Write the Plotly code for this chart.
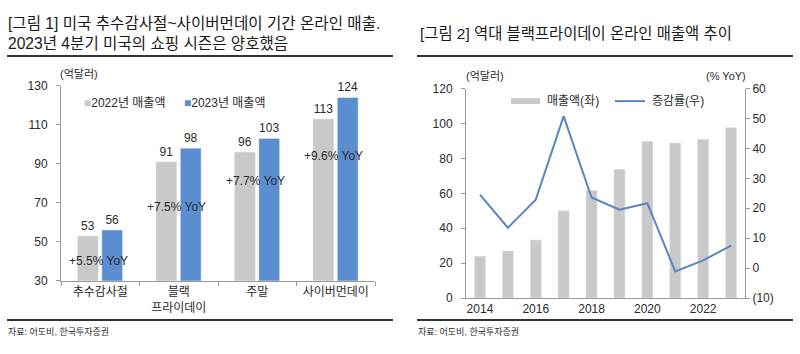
import plotly.graph_objects as go

W, H = 800, 354
def px(x): return x / W
def py(y): return 1 - y / H

# ---- data: left chart
cats = ["추수감사절", "블랙<br>프라이데이", "주말", "사이버먼데이"]
sales_2022 = [53, 91, 96, 113]
sales_2023 = [56, 98, 103, 124]
yoy_labels = ["+5.5% YoY", "+7.5% YoY", "+7.7% YoY", "+9.6% YoY"]
yoy_label_y = [40.3, 67.9, 80.9, 94.0]

# ---- data: right chart
years = [2014, 2015, 2016, 2017, 2018, 2019, 2020, 2021, 2022, 2023]
bf_sales = [24, 27, 33.3, 50, 61.7, 73.8, 89.8, 88.9, 91, 97.7]
bf_growth = [24.6, 13.5, 22.9, 50.8, 23.6, 19.5, 21.7, -1.1, 2.6, 7.5]
x2_ticks = [2014, 2016, 2018, 2020, 2022]
y1_ticks = [30, 50, 70, 90, 110, 130]
y3_ticks = [-10, 0, 10, 20, 30, 40, 50, 60]
y3_text = ["(10)", "0", "10", "20", "30", "40", "50", "60"]

GRAY = "#c9c9c9"
BLUE = "#5b8dd1"
LINE_BLUE = "#5a86c5"
AX = "#9a9a9a"
TXT = "#2b2b2b"
FONT = "Liberation Sans, Noto Sans CJK KR, sans-serif"

fig = go.Figure()

fig.add_trace(go.Bar(x=cats, y=sales_2022, width=0.265, offset=-0.29, marker_color=GRAY,
                     text=[str(v) for v in sales_2022], textposition="outside",
                     textfont=dict(size=12, color=TXT), cliponaxis=False,
                     xaxis="x", yaxis="y", showlegend=False))
fig.add_trace(go.Bar(x=cats, y=sales_2023, width=0.265, offset=0.02, marker_color=BLUE,
                     text=[str(v) for v in sales_2023], textposition="outside",
                     textfont=dict(size=12, color=TXT), cliponaxis=False,
                     xaxis="x", yaxis="y", showlegend=False))

fig.add_trace(go.Bar(x=years, y=bf_sales, width=0.4, marker_color=GRAY,
                     xaxis="x2", yaxis="y2", showlegend=False))
fig.add_trace(go.Scatter(x=years, y=bf_growth, mode="lines", line=dict(color=LINE_BLUE, width=2),
                         xaxis="x2", yaxis="y3", showlegend=False))

axcommon = dict(showline=True, linecolor=AX, linewidth=1, showgrid=False, zeroline=False,
                tickcolor=AX, ticklen=4, tickfont=dict(size=12, color=TXT, family=FONT))

annotations = []
for c, t, yy in zip(cats, yoy_labels, yoy_label_y):
    annotations.append(dict(x=c, y=yy, xref="x", yref="y", text=t, showarrow=False, xshift=-2,
                            font=dict(size=12, color=TXT, family=FONT)))

def txt(x, y, t, size=12, anchor="left", color=TXT):
    annotations.append(dict(x=px(x), y=py(y), xref="paper", yref="paper", text=t, showarrow=False,
                            xanchor=anchor, yanchor="middle", font=dict(size=size, color=color, family=FONT)))

# titles
txt(6, 17, "[그림 1] 미국 추수감사절~사이버먼데이 기간 온라인 매출.", 15.6, color="#1a1a1a")
txt(6, 38, "2023년 4분기 미국의 쇼핑 시즌은 양호했음", 15.6, color="#1a1a1a")
txt(418, 28, "[그림 2] 역대 블랙프라이데이 온라인 매출액 추이", 15.4, color="#1a1a1a")
# units
txt(58, 70, "(억달러)", 11)
txt(464, 72, "(억달러)", 11)
txt(704, 72, "(% YoY)", 11)
# legends
txt(82, 100, f'<span style="color:{GRAY}">■</span>2022년 매출액', 12)
txt(182, 100, f'<span style="color:{BLUE}">■</span>2023년 매출액', 12)
txt(545, 98, "매출액(좌)", 12)
txt(650, 98, "증감률(우)", 12)
# sources
txt(6, 338, "자료: 어도비, 한국투자증권", 9)
txt(416, 338, "자료: 어도비, 한국투자증권", 9)

shapes = [
    dict(type="line", xref="paper", yref="paper", x0=px(7), x1=px(393), y0=py(51), y1=py(51), line=dict(color="#333", width=2)),
    dict(type="line", xref="paper", yref="paper", x0=px(417), x1=px(793), y0=py(51), y1=py(51), line=dict(color="#333", width=2)),
    dict(type="line", xref="paper", yref="paper", x0=px(7), x1=px(393), y0=py(326), y1=py(326), line=dict(color="#333", width=2)),
    dict(type="line", xref="paper", yref="paper", x0=px(417), x1=px(793), y0=py(326), y1=py(326), line=dict(color="#333", width=2)),
    dict(type="rect", xref="paper", yref="paper", x0=px(511), x1=px(540), y0=py(101), y1=py(95), line=dict(width=0), fillcolor=GRAY),
    dict(type="line", xref="paper", yref="paper", x0=px(615), x1=px(645), y0=py(98), y1=py(98), line=dict(color=LINE_BLUE, width=2)),
]

fig.update_layout(
    width=W, height=H, margin=dict(l=0, r=0, t=0, b=0),
    paper_bgcolor="white", plot_bgcolor="white",
    font=dict(family=FONT, color=TXT),
    barmode="overlay",
    xaxis=dict(domain=[px(61), px(375)], anchor="y", type="category", range=[-0.5, 3.5],
               ticks="outside", tickson="boundaries", **axcommon),
    yaxis=dict(domain=[py(285), py(82)], anchor="x", range=[30, 130], tickvals=y1_ticks, ticks="outside",
               ticklabelstandoff=6, **axcommon),
    xaxis2=dict(domain=[px(466), px(745)], anchor="y2", range=[2013.5, 2023.5], tickvals=x2_ticks,
                ticks="", **axcommon),
    yaxis2=dict(domain=[py(303), py(85)], anchor="x2", range=[0, 120], dtick=20, ticks="outside",
                ticklabelstandoff=6, **axcommon),
    yaxis3=dict(overlaying="y2", anchor="x2", side="right", range=[-10, 60], tickvals=y3_ticks,
                ticktext=y3_text, ticks="outside", **axcommon),
    annotations=annotations, shapes=shapes,
)

fig.write_html("out.html")
